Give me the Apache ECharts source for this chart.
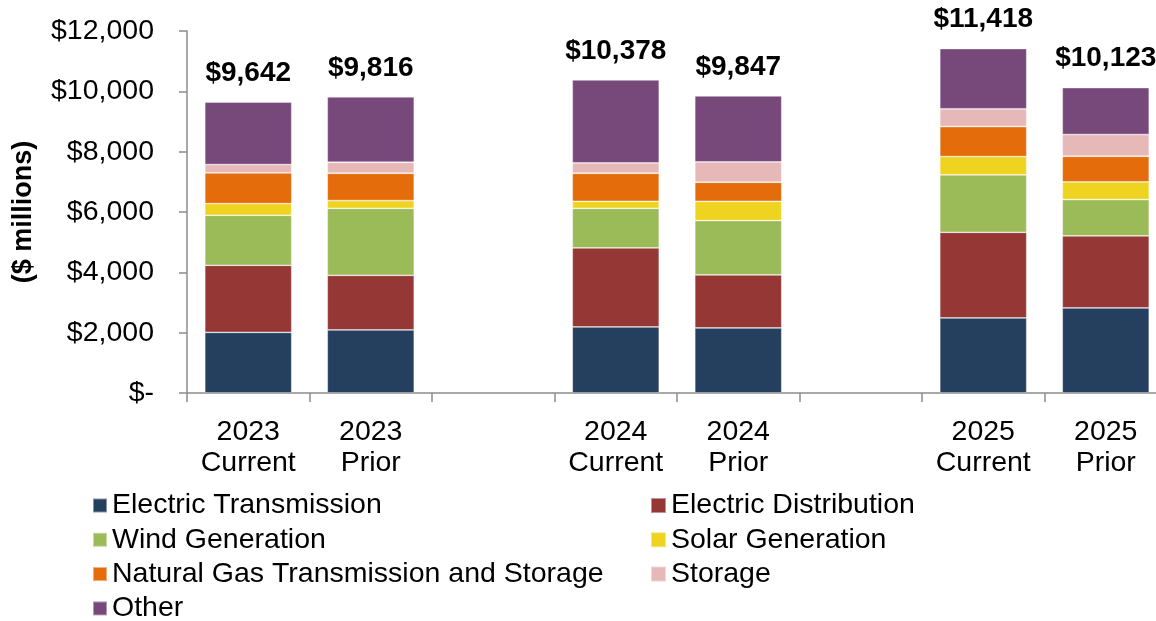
<!DOCTYPE html>
<html>
<head>
<meta charset="utf-8">
<script src="https://cdn.jsdelivr.net/npm/echarts@6/dist/echarts.min.js"></script>
<style>
  html, body { margin: 0; padding: 0; background: #fff; }
  #main { width: 1156px; height: 621px; }
</style>
</head>
<body>
<div id="main"></div>
<script>
// blank categories keep the gap between years
const categories = ['2023\nCurrent', '2023\nPrior', '', '2024\nCurrent', '2024\nPrior', '', '2025\nCurrent', '2025\nPrior'];
const totals = [9642, 9816, null, 10378, 9847, null, 11418, 10123];

const electricTransmission = [2010, 2090, null, 2189, 2156, null, 2488, 2819];
const electricDistribution = [2223, 1811, null, 2621, 1758, null, 2839, 2389];
const windGeneration = [1658, 2222, null, 1313, 1801, null, 1904, 1204];
const solarGeneration = [388, 255, null, 232, 640, null, 607, 587];
const naturalGas = [1018, 906, null, 929, 631, null, 995, 849];
const storage = [276, 365, null, 345, 676, null, 587, 720];
const other = [2069, 2167, null, 2749, 2185, null, 1998, 1555];

const font = 'Liberation Sans, Arial, sans-serif';
const chart = echarts.init(document.getElementById('main'));

function money(v) {
  return v === 0 ? '$-' : '$' + v.toLocaleString('en-US');
}

function bar(name, data, color) {
  return {
    name: name,
    type: 'bar',
    stack: 'total',
    barWidth: 87,
    data: data,
    itemStyle: { color: color, borderColor: 'rgba(255,255,255,0.45)', borderWidth: 0.8 },
  };
}

const series = [
  bar('Electric Transmission', electricTransmission, '#253f5f'),
  bar('Electric Distribution', electricDistribution, '#953735'),
  bar('Wind Generation', windGeneration, '#9bbb59'),
  bar('Solar Generation', solarGeneration, '#eed421'),
  bar('Natural Gas Transmission and Storage', naturalGas, '#e46c0a'),
  bar('Storage', storage, '#e6b9b8'),
  bar('Other', other, '#77497b'),
];
// totals sit on top of the last segment
series[6].label = {
  show: true,
  position: 'top',
  distance: 15,
  formatter: (p) => money(totals[p.dataIndex]),
  color: '#000',
  fontFamily: font,
  fontWeight: 'bold',
  fontSize: 28,
};

const legendText = { color: '#000', fontFamily: font, fontSize: 28.5, lineHeight: 26 };

chart.setOption({
  animation: false,
  grid: { left: 187, top: 31, width: 980, bottom: 228, containLabel: false, outerBoundsMode: 'none' },
  legend: [
    {
      orient: 'vertical', left: 87, top: 486, height: 200, itemWidth: 14, itemHeight: 14, itemGap: 5.3,
      icon: 'rect', textStyle: legendText,
      data: ['Electric Transmission', 'Wind Generation', 'Natural Gas Transmission and Storage', 'Other'],
    },
    {
      orient: 'vertical', left: 645, top: 486, height: 200, itemWidth: 15, itemHeight: 15, itemGap: 5.3,
      icon: 'rect', textStyle: legendText,
      data: ['Electric Distribution', 'Solar Generation', 'Storage'],
    },
  ],
  xAxis: {
    type: 'category',
    data: categories,
    axisLine: { lineStyle: { color: '#8c8c8c', width: 1.5 } },
    axisTick: { show: true, length: 9, alignWithLabel: false, lineStyle: { color: '#8c8c8c', width: 1.5 } },
    axisLabel: { color: '#000', fontFamily: font, fontSize: 28.5, lineHeight: 31, margin: 24, interval: 0 },
  },
  yAxis: {
    type: 'value',
    min: 0,
    max: 12000,
    interval: 2000,
    name: '($ millions)',
    nameLocation: 'middle',
    nameGap: 150,
    nameTextStyle: { color: '#000', fontFamily: font, fontSize: 27, fontWeight: 'bold' },
    splitLine: { show: false },
    axisLine: { show: true, lineStyle: { color: '#8c8c8c', width: 1.5 } },
    axisTick: { show: true, length: 8, lineStyle: { color: '#8c8c8c', width: 1.5 } },
    axisLabel: { color: '#000', fontFamily: font, fontSize: 28.5, margin: 33, formatter: money },
  },
  series: series,
});
</script>
</body>
</html>
